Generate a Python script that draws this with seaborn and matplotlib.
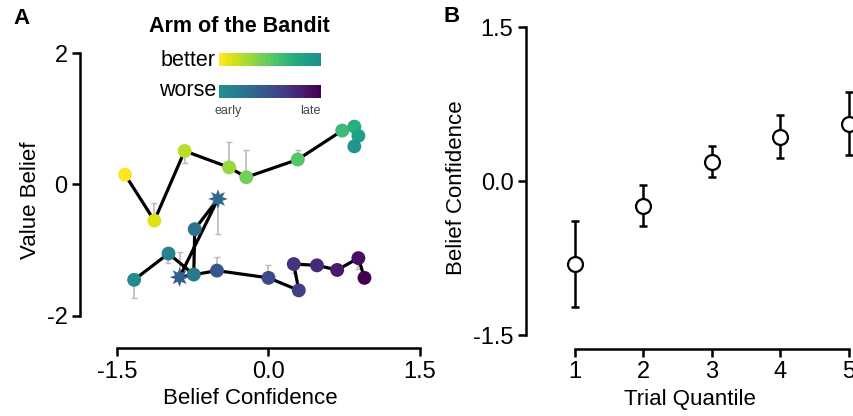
import numpy as np
import pandas as pd
import matplotlib
matplotlib.use("Agg")
import matplotlib.pyplot as plt
import seaborn as sns

sns.set_theme(style='ticks')
plt.rcParams['font.family'] = ['Liberation Sans', 'DejaVu Sans']
plt.rcParams['axes.unicode_minus'] = False
plt.rcParams['text.color'] = 'black'
plt.rcParams['axes.labelcolor'] = 'black'
plt.rcParams['xtick.color'] = 'black'
plt.rcParams['ytick.color'] = 'black'

# Panel A - better arm (early -> late)
better_conf = [-1.42, -1.13, -0.83, -0.39, -0.22, 0.29, 0.73, 0.85, 0.89, 0.85]
better_val = [0.15, -0.55, 0.51, 0.26, 0.11, 0.38, 0.82, 0.88, 0.74, 0.58]
better_err_lo = [0.07, 0.0, 0.18, 0.0, 0.0, 0.0, 0.0, 0.0, 0.0, 0.0]
better_err_hi = [0.0, 0.27, 0.0, 0.38, 0.41, 0.15, 0.0, 0.0, 0.0, 0.0]

# Panel A - worse arm (early -> late), stars mark two trials
worse_conf = [-1.33, -0.99, -0.74, -0.73, -0.50, -0.88, -0.51, 0.0, 0.30, 0.25, 0.48, 0.68, 0.89, 0.95]
worse_val = [-1.45, -1.05, -1.37, -0.68, -0.22, -1.41, -1.31, -1.42, -1.61, -1.21, -1.23, -1.30, -1.12, -1.42]
worse_err_lo = [0.27, 0.15, 0.0, 0.0, 0.53, 0.0, 0.0, 0.0, 0.0, 0.14, 0.0, 0.0, 0.16, 0.0]
worse_err_hi = [0.0, 0.0, 0.0, 0.0, 0.0, 0.38, 0.20, 0.20, 0.0, 0.0, 0.0, 0.0, 0.0, 0.0]
worse_star = [False, False, False, False, True, True, False, False, False, False, False, False, False, False]

# Panel B
quantile = [1, 2, 3, 4, 5]
conf_mean = [-0.81, -0.24, 0.19, 0.43, 0.56]
conf_err = [0.42, 0.20, 0.15, 0.21, 0.31]

cmap = plt.get_cmap('viridis')
better_df = pd.DataFrame({'conf': better_conf, 'val': better_val,
                          'c': np.linspace(1.0, 0.52, len(better_conf))})
worse_df = pd.DataFrame({'conf': worse_conf, 'val': worse_val,
                         'c': np.linspace(0.48, 0.0, len(worse_conf)), 'star': worse_star})

fig = plt.figure(figsize=(8.54, 4.16), dpi=100)
axA = fig.add_axes([80 / 854, 68 / 416, 340 / 854, 295 / 416])
axB = fig.add_axes([526 / 854, 67 / 416, 328 / 854, 322 / 416])

# error bars (grey, one-sided)
for df, lo, hi in [(better_df, better_err_lo, better_err_hi), (worse_df, worse_err_lo, worse_err_hi)]:
    axA.errorbar(df['conf'], df['val'], yerr=[lo, hi], fmt='none', ecolor='#bbbbbb',
                 elinewidth=1.2, capsize=2.5, zorder=1)
    sns.lineplot(data=df, x='conf', y='val', sort=False, estimator=None, color='black',
                 lw=2.3, ax=axA, zorder=2)

axA.scatter(better_df['conf'], better_df['val'], c=cmap(better_df['c']), s=100,
            edgecolors='none', zorder=3)
dots = worse_df[~worse_df['star']]
stars = worse_df[worse_df['star']]
axA.scatter(dots['conf'], dots['val'], c=cmap(dots['c']), s=100, edgecolors='none', zorder=3)
axA.scatter(stars['conf'], stars['val'], c=cmap(stars['c']), s=200, marker=(8, 1, 0),
            edgecolors='none', zorder=3)

axA.set_xlim(-1.866, 1.5)
axA.set_ylim(-2.487, 2.0)
axA.set_xticks([-1.5, 0.0, 1.5])
axA.set_xticklabels(['-1.5', '0.0', '1.5'])
axA.set_yticks([-2, 0, 2])
axA.set_xlabel('Belief Confidence', fontsize=16)
axA.set_ylabel('Value Belief', fontsize=16)

# Panel B
axB.errorbar(quantile, conf_mean, yerr=conf_err, fmt='none', ecolor='black',
             elinewidth=1.8, capsize=3, capthick=1.8, zorder=1)
sns.scatterplot(x=quantile, y=conf_mean, ax=axB, s=115, marker='o', facecolor='white',
                edgecolor='black', linewidth=1.6, zorder=2)
axB.set_xlim(0.285, 5.073)
axB.set_ylim(-1.636, 1.5)
axB.set_xticks(quantile)
axB.set_yticks([-1.5, 0.0, 1.5])
axB.set_yticklabels(['-1.5', '0.0', '1.5'])
axB.set_xlabel('Trial Quantile', fontsize=16)
axB.set_ylabel('Belief Confidence', fontsize=16)

for ax in [axA, axB]:
    sns.despine(ax=ax, trim=True)
    ax.tick_params(labelsize=17, width=1.8, length=6, color='black', pad=3)
    for s in ['left', 'bottom']:
        ax.spines[s].set_linewidth(1.8)
        ax.spines[s].set_color('black')
    ax.set_facecolor('white')

# legend: arm colour bars
fig.text(239 / 854, 1 - 26 / 416, 'Arm of the Bandit', ha='center', va='center',
         fontsize=15.5, fontweight='bold')
n_steps = 24
bar_better = fig.add_axes([219 / 854, 1 - 66 / 416, 101 / 854, 13 / 416])
bar_better.imshow(np.linspace(1.0, 0.5, n_steps)[None, :], cmap='viridis', vmin=0, vmax=1,
                  aspect='auto')
bar_worse = fig.add_axes([219 / 854, 1 - 98 / 416, 101 / 854, 13 / 416])
bar_worse.imshow(np.linspace(0.5, 0.0, n_steps)[None, :], cmap='viridis', vmin=0, vmax=1,
                 aspect='auto')
for b in [bar_better, bar_worse]:
    b.set_axis_off()
fig.text(216 / 854, 1 - 60 / 416, 'better', ha='right', va='center', fontsize=15.5)
fig.text(216 / 854, 1 - 91 / 416, 'worse', ha='right', va='center', fontsize=15.5)
fig.text(228 / 854, 1 - 111 / 416, 'early', ha='center', va='center', fontsize=9, color='#444444')
fig.text(310 / 854, 1 - 111 / 416, 'late', ha='center', va='center', fontsize=9, color='#444444')

fig.text(22 / 854, 1 - 19 / 416, 'A', ha='center', va='center', fontsize=16, fontweight='bold')
fig.text(452 / 854, 1 - 17 / 416, 'B', ha='center', va='center', fontsize=16, fontweight='bold')

fig.savefig('out.png', dpi=100, facecolor='white')
